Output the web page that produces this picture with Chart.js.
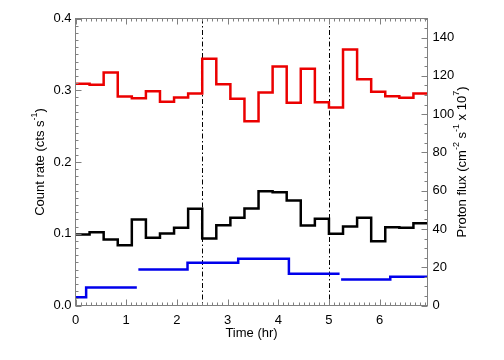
<!DOCTYPE html>
<html>
<head>
<meta charset="utf-8">
<script src="https://cdn.jsdelivr.net/npm/chart.js@4.4.1/dist/chart.umd.min.js"></script>
<style>
  html, body { margin: 0; padding: 0; background: #fff; }
  #wrap { width: 504px; height: 360px; }
</style>
</head>
<body>
<div id="wrap"><canvas id="lc" width="504" height="360"></canvas></div>
<script>
// Light curve: two count-rate series (1000 s bins) + proton flux (right axis)
const BIN_HR = 1000 / 3600;
const T_MAX = 25000 / 3600;

const countRed = [0.309, 0.3076, 0.3247, 0.2913, 0.2889, 0.2987, 0.2839, 0.2899, 0.2955, 0.3438,
  0.3084, 0.2881, 0.2569, 0.2969, 0.3331, 0.2825, 0.3299, 0.2833, 0.276, 0.3568,
  0.3154, 0.2978, 0.2917, 0.2895, 0.2955];
const countBlack = [0.099, 0.1022, 0.092, 0.084, 0.1199, 0.0944, 0.1003, 0.1083, 0.1348, 0.0934,
  0.1119, 0.1222, 0.1352, 0.1593, 0.1579, 0.1463, 0.1115, 0.1208, 0.0999, 0.1101,
  0.1222, 0.0896, 0.1091, 0.1083, 0.1147];

const protonStart = [0, 0.21, 1.24, 2.21, 3.21, 4.21, 5.24, 6.21];
const protonEnd = [0.21, 1.21, 2.21, 3.21, 4.21, 5.21, 6.21, T_MAX];
const protonFlux = [4.3, 9.4, 18.8, 22.3, 24.4, 16.6, 13.6, 15.0];

const xTicks = [0, 1, 2, 3, 4, 5, 6];
const yTicks = [0, 0.1, 0.2, 0.3, 0.4];
const y2Ticks = [0, 20, 40, 60, 80, 100, 120, 140];
const markerHours = [2.5, 5];

const FONT = "'Liberation Sans', Arial, Helvetica, sans-serif";
const AXIS_COLOR = '#808080';

function binSteps(values) {
  const pts = values.map((v, i) => ({ x: i * BIN_HR, y: v }));
  pts.push({ x: values.length * BIN_HR, y: values[values.length - 1] });
  return pts;
}

function protonSteps() {
  const pts = [];
  protonFlux.forEach((v, i) => {
    pts.push({ x: protonStart[i], y: v });
    const next = protonStart[i + 1];
    if (next !== undefined && next !== protonEnd[i]) {
      pts.push({ x: protonEnd[i], y: v });
      pts.push({ x: protonEnd[i], y: null });
    }
  });
  const last = protonFlux.length - 1;
  pts.push({ x: protonEnd[last], y: protonFlux[last] });
  return pts;
}

function drawTitle(ctx, parts, cx, cy, rotate) {
  const base = '13px ' + FONT;
  const sup = '9px ' + FONT;
  let total = 0;
  parts.forEach(p => { ctx.font = p.sup ? sup : base; p.w = ctx.measureText(p.t).width; total += p.w; });
  ctx.save();
  ctx.translate(cx, cy);
  if (rotate) ctx.rotate(-Math.PI / 2);
  ctx.fillStyle = '#000';
  ctx.textBaseline = 'middle';
  ctx.textAlign = 'left';
  let x = -total / 2;
  parts.forEach(p => {
    ctx.font = p.sup ? sup : base;
    ctx.fillText(p.t, x, p.sup ? -5 : 0);
    x += p.w;
  });
  ctx.restore();
}

const idlFrame = {
  id: 'idlFrame',
  beforeDatasetsDraw(chart) {
    const { ctx, chartArea: a, scales } = chart;
    ctx.save();
    ctx.strokeStyle = '#000';
    ctx.lineWidth = 1;
    ctx.setLineDash([5, 2.5, 1.5, 2.5]);
    markerHours.forEach(h => {
      const px = Math.round(scales.x.getPixelForValue(h)) + 0.5;
      ctx.beginPath();
      ctx.moveTo(px, a.top);
      ctx.lineTo(px, a.bottom);
      ctx.stroke();
    });
    ctx.restore();
  },
  afterDraw(chart) {
    const { ctx, chartArea: a, scales } = chart;
    ctx.save();
    ctx.strokeStyle = AXIS_COLOR;
    ctx.lineWidth = 1;
    ctx.strokeRect(a.left, a.top, a.right - a.left, a.bottom - a.top);
    ctx.beginPath();
    // time axis, bottom and top, minor every 0.1 hr
    for (let k = 0; k * 0.1 <= T_MAX; k++) {
      const px = Math.round(scales.x.getPixelForValue(k / 10)) + 0.5;
      const len = k % 10 === 0 ? 6 : 3;
      ctx.moveTo(px, a.bottom); ctx.lineTo(px, a.bottom - len);
      ctx.moveTo(px, a.top); ctx.lineTo(px, a.top + len);
    }
    // count rate axis, minor every 0.01
    for (let k = 0; k <= 40; k++) {
      const py = Math.round(scales.y.getPixelForValue(k / 100)) + 0.5;
      const len = k % 10 === 0 ? 6 : 3;
      ctx.moveTo(a.left, py); ctx.lineTo(a.left + len, py);
    }
    // proton flux axis, minor every 5
    for (let k = 0; k <= 30; k++) {
      const py = Math.round(scales.y2.getPixelForValue(k * 5)) + 0.5;
      const len = (k * 5) % 20 === 0 ? 6 : 3;
      ctx.moveTo(a.right, py); ctx.lineTo(a.right - len, py);
    }
    ctx.stroke();
    ctx.restore();

    const midY = (a.top + a.bottom) / 2;
    drawTitle(ctx, [{ t: 'Count rate (cts s' }, { t: '-1', sup: true }, { t: ')' }], 40, midY, true);
    drawTitle(ctx, [{ t: 'Proton flux (cm' }, { t: '-2', sup: true }, { t: ' s' }, { t: '-1', sup: true },
      { t: ' x 10' }, { t: '7', sup: true }, { t: ')' }], 462, midY, true);
    drawTitle(ctx, [{ t: 'Time (hr)' }], (a.left + a.right) / 2, 333.5, false);
  }
};

function initLightCurve() {
  Chart.defaults.color = '#000';
  Chart.defaults.font.family = FONT;
  Chart.defaults.font.size = 13;
  const ctx = document.getElementById('lc').getContext('2d');
  const lineStyle = { stepped: true, pointRadius: 0, borderWidth: 2.5, fill: false, tension: 0 };
  new Chart(ctx, {
    type: 'line',
    data: {
      datasets: [
        Object.assign({ label: 'Count rate A', data: binSteps(countRed), borderColor: 'rgb(235,0,0)', yAxisID: 'y' }, lineStyle),
        Object.assign({ label: 'Count rate B', data: binSteps(countBlack), borderColor: '#000', yAxisID: 'y' }, lineStyle),
        Object.assign({ label: 'Proton flux', data: protonSteps(), borderColor: 'rgb(0,0,235)', yAxisID: 'y2' }, lineStyle)
      ]
    },
    options: {
      responsive: false,
      animation: false,
      devicePixelRatio: 1,
      layout: { padding: { top: 18.5, left: 0, right: 0, bottom: 0 } },
      plugins: { legend: { display: false }, tooltip: { enabled: false } },
      scales: {
        x: {
          type: 'linear', min: 0, max: T_MAX,
          grid: { display: false, drawTicks: false }, border: { display: false },
          afterBuildTicks: s => { s.ticks = xTicks.map(v => ({ value: v })); },
          afterFit: s => { s.height = 54.5; },
          ticks: { padding: 7, maxRotation: 0, callback: v => String(v) }
        },
        y: {
          type: 'linear', position: 'left', min: 0, max: 0.4,
          grid: { display: false, drawTicks: false }, border: { display: false },
          afterBuildTicks: s => { s.ticks = yTicks.map(v => ({ value: v })); },
          afterFit: s => { s.width = 75.5; },
          ticks: { padding: 4, callback: v => v.toFixed(1) }
        },
        y2: {
          type: 'linear', position: 'right', min: 0, max: 150,
          grid: { display: false, drawTicks: false }, border: { display: false },
          afterBuildTicks: s => { s.ticks = y2Ticks.map(v => ({ value: v })); },
          afterFit: s => { s.width = 76.5; },
          ticks: { padding: 5, callback: v => String(v) }
        }
      }
    },
    plugins: [idlFrame]
  });
}

initLightCurve();
</script>
</body>
</html>
